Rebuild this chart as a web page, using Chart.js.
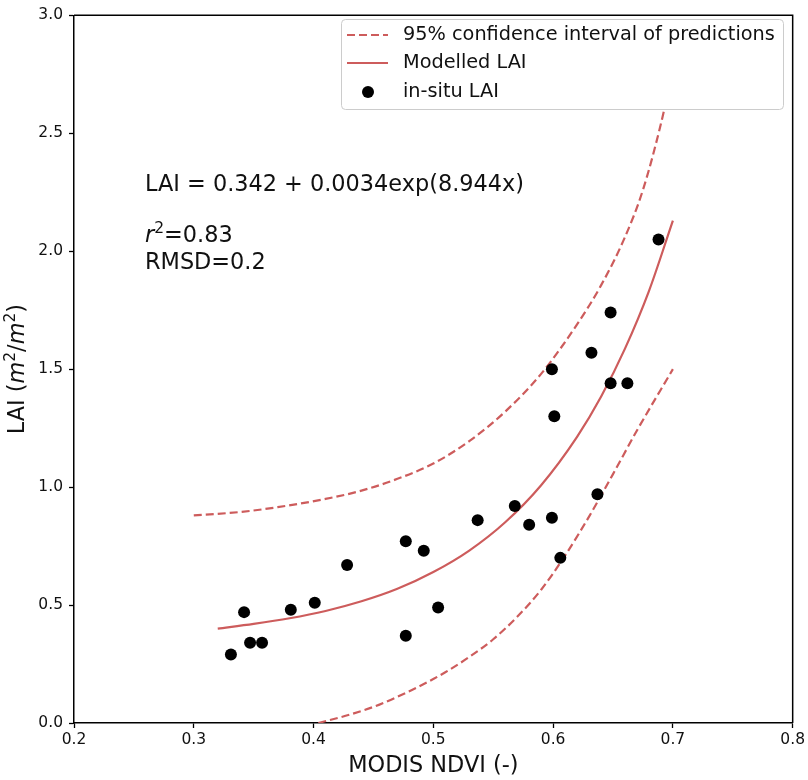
<!DOCTYPE html>
<html>
<head>
<meta charset="utf-8">
<script src="https://cdn.jsdelivr.net/npm/chart.js@4.4.1/dist/chart.umd.min.js"></script>
<style>
  html, body { margin: 0; padding: 0; background: #fff; }
  #wrap { width: 808px; height: 780px; position: relative; }
</style>
</head>
<body>
<div id="wrap"><canvas id="chart" width="808" height="780"></canvas></div>
<script>
// in-situ LAI against MODIS NDVI
const ndvi = [0.331, 0.342, 0.347, 0.357, 0.381, 0.401, 0.428, 0.477, 0.492, 0.477, 0.504, 0.537,
  0.568, 0.580, 0.599, 0.606, 0.599, 0.601, 0.632, 0.648, 0.648, 0.662, 0.637, 0.688];
const laiObs = [0.29, 0.47, 0.34, 0.34, 0.48, 0.51, 0.67, 0.77, 0.73, 0.37, 0.49, 0.86,
  0.92, 0.84, 0.87, 0.70, 1.50, 1.30, 1.57, 1.74, 1.44, 1.44, 0.97, 2.05];

// modelled curve: LAI = 0.342 + 0.0034exp(8.944x)
const modelX = [0.32, 0.35, 0.38, 0.41, 0.44, 0.47, 0.50, 0.53, 0.56, 0.59, 0.62, 0.64, 0.66, 0.68, 0.70];
const modelLai = [0.400, 0.420, 0.444, 0.475, 0.516, 0.569, 0.640, 0.731, 0.851, 1.008, 1.213, 1.383, 1.587, 1.831, 2.13];

// 95% prediction interval, upper and lower
const upperX = [0.30, 0.34, 0.37, 0.41, 0.44, 0.47, 0.50, 0.53, 0.56, 0.59, 0.62, 0.64, 0.66, 0.675, 0.69, 0.70];
const upperLai = [0.88, 0.895, 0.915, 0.95, 0.985, 1.035, 1.10, 1.195, 1.32, 1.48, 1.69, 1.855, 2.06, 2.26, 2.54, 2.77];
const lowerX = [0.404, 0.43, 0.455, 0.48, 0.51, 0.53, 0.55, 0.57, 0.59, 0.61, 0.63, 0.65, 0.67, 0.70];
const lowerLai = [0.00, 0.035, 0.078, 0.135, 0.215, 0.28, 0.355, 0.45, 0.565, 0.71, 0.875, 1.055, 1.24, 1.50];

const xTicks = [0.2, 0.3, 0.4, 0.5, 0.6, 0.7, 0.8];
const yTicks = [0.0, 0.5, 1.0, 1.5, 2.0, 2.5, 3.0];

const legendItems = ["95% confidence interval of predictions", "Modelled LAI", "in-situ LAI"];

const RED = "#cd5c5c";
const FONT = "'DejaVu Sans', Verdana, sans-serif";
const DASH = [8, 4];

const toPoints = (xs, ys) => xs.map((x, i) => ({ x: x, y: ys[i] }));

// draws a run of text pieces with different fonts one after another
function drawParts(ctx, parts, x, y) {
  let cx = x;
  parts.forEach((p) => {
    ctx.font = p.font;
    ctx.fillText(p.text, cx, y + (p.dy || 0));
    cx += ctx.measureText(p.text).width;
  });
}
function partsWidth(ctx, parts) {
  return parts.reduce((w, p) => {
    ctx.font = p.font;
    return w + ctx.measureText(p.text).width;
  }, 0);
}

const extrasPlugin = {
  id: "extras",
  afterDraw(chart) {
    const ctx = chart.ctx;
    const area = chart.chartArea;
    ctx.save();

    // top and right spines
    ctx.strokeStyle = "#000";
    ctx.lineWidth = 1.5;
    ctx.beginPath();
    ctx.moveTo(area.left, area.top);
    ctx.lineTo(area.right, area.top);
    ctx.lineTo(area.right, area.bottom);
    ctx.stroke();

    // legend box
    const lx = 341, ly = 19, lw = 442, lh = 90;
    ctx.fillStyle = "#fff";
    ctx.strokeStyle = "#cccccc";
    ctx.lineWidth = 1;
    ctx.beginPath();
    ctx.roundRect(lx + 0.5, ly + 0.5, lw, lh, 4);
    ctx.fill();
    ctx.stroke();

    const rows = [35, 63, 92];
    ctx.strokeStyle = RED;
    ctx.lineWidth = 2.2;
    ctx.setLineDash(DASH);
    ctx.beginPath();
    ctx.moveTo(347, rows[0]);
    ctx.lineTo(388, rows[0]);
    ctx.stroke();
    ctx.setLineDash([]);
    ctx.beginPath();
    ctx.moveTo(347, rows[1]);
    ctx.lineTo(388, rows[1]);
    ctx.stroke();
    ctx.fillStyle = "#000";
    ctx.beginPath();
    ctx.arc(368, rows[2], 6, 0, Math.PI * 2);
    ctx.fill();

    ctx.fillStyle = "#111";
    ctx.textBaseline = "middle";
    ctx.textAlign = "left";
    ctx.font = "19.3px " + FONT;
    legendItems.forEach((t, i) => ctx.fillText(t, 403, rows[i]));

    // fit equation and stats
    const big = "22.4px " + FONT;
    const ital = "italic 22.4px " + FONT;
    const sup = "15.5px " + FONT;
    ctx.font = big;
    ctx.fillText("LAI = 0.342 + 0.0034exp(8.944x)", 145, 185);
    drawParts(ctx, [
      { text: "r", font: ital },
      { text: "2", font: sup, dy: -7 },
      { text: "=0.83", font: big },
    ], 145, 236);
    ctx.font = big;
    ctx.fillText("RMSD=0.2", 145, 263);

    // axis titles
    ctx.textAlign = "center";
    ctx.fillText("MODIS NDVI (-)", (area.left + area.right) / 2, 766);

    const yTitle = [
      { text: "LAI (", font: big },
      { text: "m", font: ital },
      { text: "2", font: sup, dy: -7 },
      { text: "/", font: big },
      { text: "m", font: ital },
      { text: "2", font: sup, dy: -7 },
      { text: ")", font: big },
    ];
    ctx.textAlign = "left";
    ctx.translate(18, (area.top + area.bottom) / 2);
    ctx.rotate(-Math.PI / 2);
    drawParts(ctx, yTitle, -partsWidth(ctx, yTitle) / 2, 0);

    ctx.restore();
  },
};

const lineStyle = {
  showLine: true,
  pointRadius: 0,
  pointHoverRadius: 0,
  borderColor: RED,
  borderWidth: 2.2,
  cubicInterpolationMode: "monotone",
  fill: false,
};

new Chart(document.getElementById("chart").getContext("2d"), {
  type: "scatter",
  data: {
    datasets: [
      {
        label: "in-situ LAI",
        data: toPoints(ndvi, laiObs),
        pointRadius: 6,
        pointBackgroundColor: "#000",
        pointBorderWidth: 0,
        showLine: false,
      },
      { ...lineStyle, label: "Modelled LAI", data: toPoints(modelX, modelLai) },
      { ...lineStyle, label: "upper", data: toPoints(upperX, upperLai), borderDash: DASH },
      { ...lineStyle, label: "lower", data: toPoints(lowerX, lowerLai), borderDash: DASH },
    ],
  },
  options: {
    responsive: false,
    animation: false,
    events: [],
    layout: { padding: { top: 10, right: 15, left: 0, bottom: 0 } },
    plugins: { legend: { display: false }, tooltip: { enabled: false } },
    scales: {
      x: {
        type: "linear",
        min: 0.2,
        max: 0.8,
        afterFit: (s) => { s.height = 57; },
        afterBuildTicks: (s) => { s.ticks = xTicks.map((v) => ({ value: v })); },
        ticks: {
          callback: (v) => Number(v).toFixed(1),
          font: { family: FONT, size: 15.5 },
          color: "#111",
          padding: 3,
          maxRotation: 0,
        },
        grid: { drawOnChartArea: false, drawTicks: true, tickLength: 5, tickColor: "#000", tickWidth: 1.3 },
        border: { color: "#000", width: 1.5 },
      },
      y: {
        type: "linear",
        min: 0,
        max: 3,
        afterFit: (s) => { s.width = 74; },
        afterBuildTicks: (s) => { s.ticks = yTicks.map((v) => ({ value: v })); },
        ticks: {
          callback: (v) => Number(v).toFixed(1),
          font: { family: FONT, size: 15.5 },
          color: "#111",
          padding: 6,
        },
        grid: { drawOnChartArea: false, drawTicks: true, tickLength: 5, tickColor: "#000", tickWidth: 1.3 },
        border: { color: "#000", width: 1.5 },
      },
    },
  },
  plugins: [extrasPlugin],
});
</script>
</body>
</html>
